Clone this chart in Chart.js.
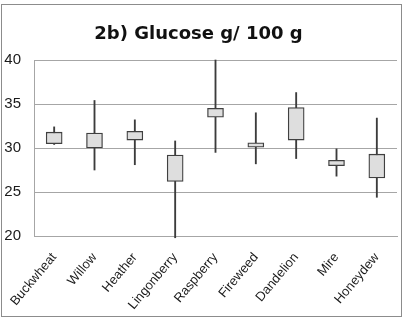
<!DOCTYPE html>
<html>
<head>
<meta charset="utf-8">
<script src="https://cdn.jsdelivr.net/npm/chart.js@4"></script>
<style>
  html, body { margin: 0; padding: 0; background: #ffffff; }
  #wrap { position: relative; width: 407px; height: 322px; }
</style>
</head>
<body>
<div id="wrap"><canvas id="c" width="407" height="322"></canvas></div>
<script>
// Glucose content (g / 100 g) per honey type: whisker ends and box edges
const categories = ['Buckwheat', 'Willow', 'Heather', 'Lingonberry', 'Raspberry', 'Fireweed', 'Dandelion', 'Mire', 'Honeydew'];
const lowValues  = [30.4, 27.5, 28.1, 19.8, 29.5, 28.2, 28.8, 26.8, 24.4];
const boxLow     = [30.5, 30.0, 30.9, 26.2, 33.5, 30.1, 30.9, 28.0, 26.6];
const boxHigh    = [31.8, 31.7, 31.9, 29.2, 34.5, 30.6, 34.6, 28.6, 29.3];
const highValues = [32.4, 35.4, 33.2, 30.8, 40.0, 34.0, 36.3, 29.9, 33.4];
const yTicks     = [20, 25, 30, 35, 40];

const boxes    = categories.map((_, i) => [boxLow[i], boxHigh[i]]);
const whiskers = categories.map((_, i) => [lowValues[i], highValues[i]]);

// Outer frame around the whole figure
const framePlugin = {
  id: 'frame',
  beforeDraw(chart) {
    const ctx = chart.ctx;
    ctx.save();
    ctx.fillStyle = '#ffffff';
    ctx.fillRect(0, 0, chart.width, chart.height);
    ctx.strokeStyle = '#8c8c8c';
    ctx.lineWidth = 1;
    ctx.strokeRect(1.5, 4.5, 400, 312);
    ctx.restore();
  }
};

new Chart(document.getElementById('c'), {
  type: 'bar',
  data: {
    labels: categories,
    datasets: [
      {
        label: 'Box',
        data: boxes,
        backgroundColor: '#dedede',
        borderColor: '#404040',
        borderWidth: 1.3,
        borderSkipped: false,
        barThickness: 16,
        grouped: false,
        order: 0
      },
      {
        label: 'Range',
        data: whiskers,
        backgroundColor: '#3c3c3c',
        borderWidth: 0,
        barThickness: 1.2,
        grouped: false,
        clip: 4,
        order: 1
      }
    ]
  },
  options: {
    responsive: false,
    animation: false,
    devicePixelRatio: 1,
    layout: { padding: { left: 0, right: 10, top: 0, bottom: 0 } },
    plugins: {
      legend: { display: false },
      tooltip: { enabled: false },
      title: {
        display: true,
        text: '2b) Glucose g/ 100 g',
        color: '#111111',
        font: { family: 'DejaVu Sans', size: 18, weight: 'bold', lineHeight: 1.2 },
        padding: { top: 24, bottom: 14.4 }
      }
    },
    scales: {
      x: {
        grid: { display: false, drawTicks: false },
        border: { display: true, color: '#a6a6a6' },
        ticks: {
          color: '#1a1a1a',
          font: { family: 'Liberation Sans', size: 13 },
          maxRotation: 50,
          minRotation: 50,
          padding: 14,
          autoSkip: false
        },
        afterFit(scale) {
          scale.height = 86;
          // rotated labels may hang past the plot edge; keep the plot width fixed
          scale.paddingLeft = 0;
          scale.paddingRight = 0;
        }
      },
      y: {
        min: 20,
        max: 40,
        afterBuildTicks(scale) { scale.ticks = yTicks.map(v => ({ value: v })); },
        grid: { color: '#a6a6a6', lineWidth: 1, drawTicks: false },
        border: { display: true, color: '#a6a6a6' },
        ticks: {
          color: '#1a1a1a',
          font: { family: 'Liberation Sans', size: 15 },
          padding: 13
        },
        afterFit(scale) { scale.width = 34; }
      }
    }
  },
  plugins: [framePlugin]
});
</script>
</body>
</html>
